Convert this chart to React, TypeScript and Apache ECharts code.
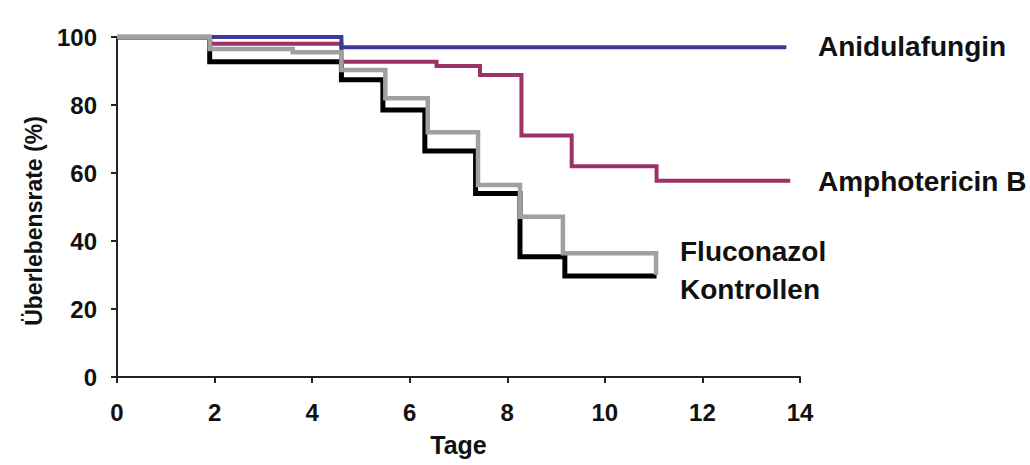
import React, { useEffect, useRef } from "react";
import * as echarts from "echarts";

const xTicks = [0, 2, 4, 6, 8, 10, 12, 14];
const yTicks = [0, 20, 40, 60, 80, 100];

const anidulafungin: [number, number][] = [
  [0, 100], [4.6, 97], [13.72, 97],
];
const amphotericinB: [number, number][] = [
  [0, 100], [1.9, 98], [4.6, 92.7], [6.55, 91.5], [7.44, 88.8], [8.29, 71], [9.32, 62], [11.06, 57.7], [13.8, 57.7],
];
const fluconazol: [number, number][] = [
  [0, 100], [1.9, 96.5], [3.6, 95.5], [4.6, 90.3], [5.5, 82], [6.37, 72], [7.4, 56.5], [8.26, 47.1], [9.14, 36.4], [11.05, 36.4], [11.05, 30],
];
const kontrollen: [number, number][] = [
  [0, 100], [1.9, 92.7], [4.6, 87.4], [5.45, 78.5], [6.31, 66.5], [7.35, 54], [8.26, 35.4], [9.18, 29.7], [11.06, 29.7],
];

const FONT = "'Liberation Sans', Arial, sans-serif";

export default function App() {
  const ref = useRef<HTMLDivElement>(null);
  useEffect(() => {
    if (!ref.current) return;
    const chart = echarts.init(ref.current, null, { renderer: "svg" });
    const mk = (name: string, data: [number, number][], color: string, width: number) => ({
      name,
      type: "line",
      step: "end",
      data,
      symbol: "none",
      lineStyle: { color, width, cap: "butt", join: "miter" },
    });
    chart.setOption({
      animation: false,
      backgroundColor: "#ffffff",
      grid: { left: 117, top: 37, right: 230, bottom: 88 },
      xAxis: {
        type: "value",
        min: 0,
        max: 14,
        interval: 2,
        name: "Tage",
        nameLocation: "middle",
        nameGap: 55,
        nameTextStyle: { fontFamily: FONT, fontWeight: "bold", fontSize: 25, color: "#111" },
        axisLine: { lineStyle: { color: "#222", width: 2 } },
        axisTick: { show: true, length: 6, lineStyle: { color: "#222", width: 2 } },
        axisLabel: { fontFamily: FONT, fontWeight: "bold", fontSize: 24, color: "#111", margin: 23, formatter: (v: number) => (xTicks.includes(v) ? String(v) : "") },
        splitLine: { show: false },
      },
      yAxis: {
        type: "value",
        min: 0,
        max: 100,
        interval: 20,
        name: "Überlebensrate (%)",
        nameLocation: "middle",
        nameGap: 72,
        nameTextStyle: { fontFamily: FONT, fontWeight: "bold", fontSize: 23, color: "#111", padding: [0, 28, 0, 0] },
        axisLine: { show: true, lineStyle: { color: "#222", width: 2 } },
        axisTick: { show: true, length: 6, lineStyle: { color: "#222", width: 2 } },
        axisLabel: { fontFamily: FONT, fontWeight: "bold", fontSize: 24, color: "#111", margin: 20, formatter: (v: number) => (yTicks.includes(v) ? String(v) : "") },
        splitLine: { show: false },
      },
      series: [
        mk("Kontrollen", kontrollen, "#000000", 5),
        mk("Amphotericin B", amphotericinB, "#9b3366", 4),
        mk("Anidulafungin", anidulafungin, "#3a3a9e", 4),
        mk("Fluconazol", fluconazol, "#a0a0a0", 4.5),
      ],
      graphic: [
        { type: "text", left: 818, top: 32, style: { text: "Anidulafungin", font: `bold 28px ${FONT}`, fill: "#111" } },
        { type: "text", left: 818, top: 167, style: { text: "Amphotericin B", font: `bold 28px ${FONT}`, fill: "#111" } },
        { type: "text", left: 680, top: 237, style: { text: "Fluconazol", font: `bold 28px ${FONT}`, fill: "#111" } },
        { type: "text", left: 680, top: 275, style: { text: "Kontrollen", font: `bold 28px ${FONT}`, fill: "#111" } },
      ],
    });
    return () => chart.dispose();
  }, []);
  return <div ref={ref} style={{ position: "fixed", left: 0, top: 0, width: 1030, height: 465 }} />;
}
